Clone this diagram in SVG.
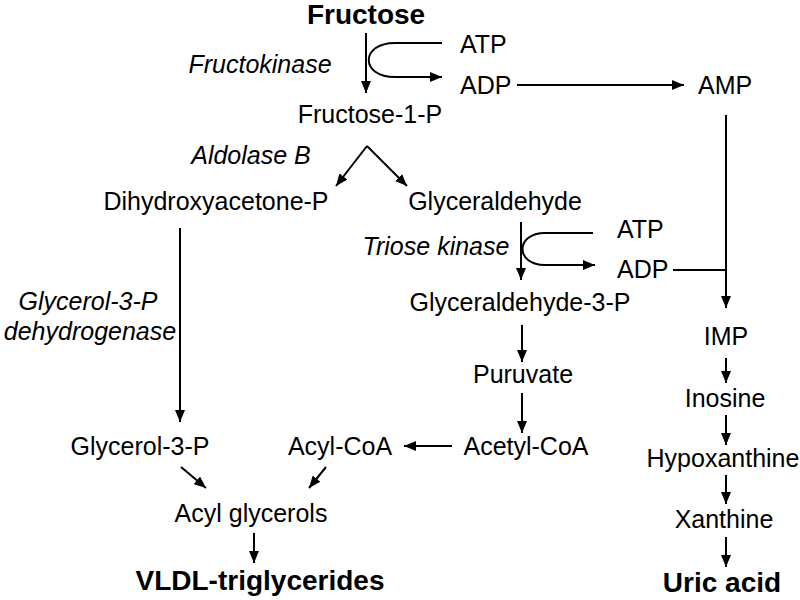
<svg xmlns="http://www.w3.org/2000/svg" width="800" height="600" viewBox="0 0 800 600">
<defs>
<marker id="ah" viewBox="0 0 12 10" refX="12" refY="5" markerWidth="12" markerHeight="10" markerUnits="userSpaceOnUse" orient="auto">
<path d="M0,0 L12,5 L0,10 z" fill="#000"/>
</marker>
</defs>
<style>
text{font-family:"Liberation Sans",Arial,sans-serif;font-size:25px;fill:#000}
.b{font-weight:bold;font-size:28px}
.i{font-style:italic}
.m{text-anchor:middle}
.c{fill:none;stroke:#000;stroke-width:2}
.a{marker-end:url(#ah)}
</style>
<rect width="800" height="600" fill="#fff"/>
<g id="connectors">
<path class="c a" d="M366,33 V93"/>
<path class="c a" d="M442,43 H395 C360,43 360,77 395,77 H442"/>
<path class="c a" d="M517,85 H684"/>
<path class="c" d="M726,115 V270"/>
<path class="c a" d="M726,270 V308"/>
<path class="c a" d="M367,146 L336,186"/>
<path class="c a" d="M367,146 L407,186"/>
<path class="c a" d="M180,228 V422"/>
<path class="c a" d="M521,222 V280"/>
<path class="c a" d="M593,233 H545 C515,233 515,265 545,265 H595"/>
<path class="c" d="M673,270 H726"/>
<path class="c a" d="M522,325 V362"/>
<path class="c a" d="M522,393 V433"/>
<path class="c a" d="M452,446 H404"/>
<path class="c a" d="M181,467 L206,488"/>
<path class="c a" d="M326,467 L309,488"/>
<path class="c a" d="M254,533 V563"/>
<path class="c a" d="M726,358 V383"/>
<path class="c a" d="M726,415 V445"/>
<path class="c a" d="M726,475 V504"/>
<path class="c a" d="M726,537 V567"/>
</g>
<g id="fructose"><text class="b m" x="366" y="24">Fructose</text></g>
<g id="fructokinase"><text class="i m" x="260" y="73">Fructokinase</text></g>
<g id="atp1"><text x="460" y="53">ATP</text></g>
<g id="adp1"><text x="460" y="94">ADP</text></g>
<g id="amp"><text x="698" y="94">AMP</text></g>
<g id="fructose1p"><text class="m" x="370" y="123">Fructose-1-P</text></g>
<g id="aldolaseb"><text class="i m" x="251" y="164">Aldolase B</text></g>
<g id="dhap"><text class="m" x="216" y="210">Dihydroxyacetone-P</text></g>
<g id="glyceraldehyde"><text class="m" x="495" y="210">Glyceraldehyde</text></g>
<g id="triosekinase"><text class="i m" x="436" y="255">Triose kinase</text></g>
<g id="atp2"><text x="617" y="238">ATP</text></g>
<g id="adp2"><text x="617" y="278">ADP</text></g>
<g id="ga3p"><text class="m" x="520" y="311">Glyceraldehyde-3-P</text></g>
<g id="g3pdh"><text class="i m" x="88" y="310">Glycerol-3-P</text><text class="i m" x="90" y="340">dehydrogenase</text></g>
<g id="puruvate"><text class="m" x="523" y="383">Puruvate</text></g>
<g id="acetylcoa"><text class="m" x="526" y="455">Acetyl-CoA</text></g>
<g id="acylcoa"><text class="m" x="340" y="455">Acyl-CoA</text></g>
<g id="glycerol3p"><text class="m" x="140" y="455">Glycerol-3-P</text></g>
<g id="acylglycerols"><text class="m" x="251" y="522">Acyl glycerols</text></g>
<g id="vldl"><text class="b m" x="260" y="590">VLDL-triglycerides</text></g>
<g id="imp"><text class="m" x="726" y="345">IMP</text></g>
<g id="inosine"><text class="m" x="725" y="407">Inosine</text></g>
<g id="hypoxanthine"><text class="m" x="723" y="467">Hypoxanthine</text></g>
<g id="xanthine"><text class="m" x="724" y="528">Xanthine</text></g>
<g id="uricacid"><text class="b m" x="722" y="592">Uric acid</text></g>
</svg>
